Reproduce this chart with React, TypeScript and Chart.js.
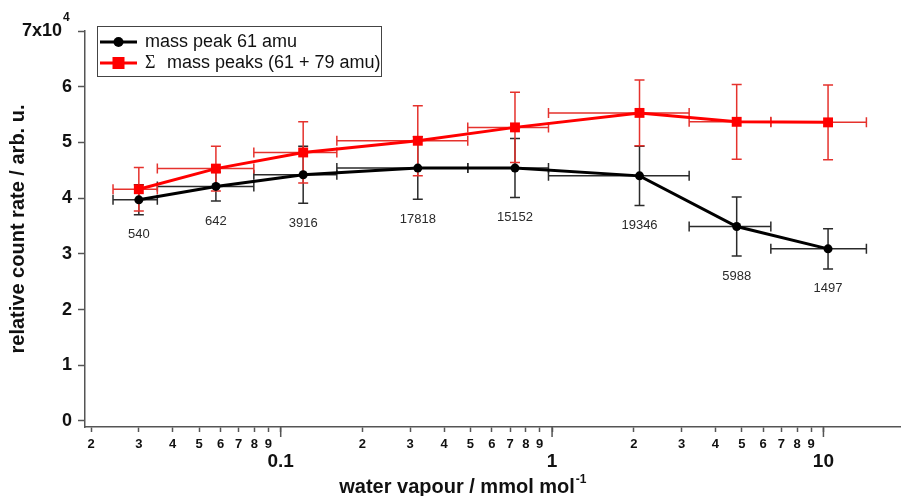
import React, { useEffect, useRef } from "react";
import { Chart, registerables } from "chart.js";

Chart.register(...registerables);

// ---- data ----
const waterVapour = [0.030, 0.0577, 0.121, 0.32, 0.73, 2.1, 4.79, 10.4];
const binEdges = [0.0241, 0.0351, 0.0796, 0.161, 0.489, 0.97, 3.2, 6.4, 14.4];
const peak61 = [39700, 42100, 44200, 45400, 45400, 44000, 34900, 30900];
const peak61Err = [2700, 2600, 5100, 5600, 5300, 5300, 5300, 3600];
const peakSum = [41600, 45300, 48200, 50300, 52700, 55300, 53700, 53600];
const peakSumErr = [3900, 4000, 5500, 6300, 6300, 5900, 6700, 6700];
const sampleCounts = ["540", "642", "3916", "17818", "15152", "19346", "5988", "1497"];
const xTickValues = [
  0.02, 0.03, 0.04, 0.05, 0.06, 0.07, 0.08, 0.09, 0.1,
  0.2, 0.3, 0.4, 0.5, 0.6, 0.7, 0.8, 0.9, 1,
  2, 3, 4, 5, 6, 7, 8, 9, 10,
];
const xMajorValues = [0.1, 1, 10];
const yTickValues = [0, 10000, 20000, 30000, 40000, 50000, 60000, 70000];
const seriesLabels = ["mass peak 61 amu", "mass peaks (61 + 79 amu)"];

const SANS = "'Liberation Sans', Arial, sans-serif";
const NARROW = "'Liberation Sans Narrow', 'Arial Narrow', 'Liberation Sans', Arial, sans-serif";
const SERIF = "'Liberation Serif', 'Times New Roman', serif";

const isMajor = (v: number) => xMajorValues.some((m) => Math.abs(m - v) < 1e-9);

const decorPlugin = {
  id: "decor",
  beforeDatasetsDraw(chart: any) {
    const { ctx } = chart;
    const x = chart.scales.x;
    const y = chart.scales.y;
    const sets = [
      { vals: peak61, err: peak61Err, color: "#2b2b2b" },
      { vals: peakSum, err: peakSumErr, color: "#e5322d" },
    ];
    ctx.save();
    ctx.lineWidth = 1.5;
    for (const s of sets) {
      ctx.strokeStyle = s.color;
      s.vals.forEach((v, i) => {
        const px = x.getPixelForValue(waterVapour[i]);
        const py = y.getPixelForValue(v);
        const top = y.getPixelForValue(v + s.err[i]);
        const bot = y.getPixelForValue(v - s.err[i]);
        const l = x.getPixelForValue(binEdges[i]);
        const r = x.getPixelForValue(binEdges[i + 1]);
        const c = 5;
        ctx.beginPath();
        ctx.moveTo(px, top);
        ctx.lineTo(px, bot);
        ctx.moveTo(px - c, top);
        ctx.lineTo(px + c, top);
        ctx.moveTo(px - c, bot);
        ctx.lineTo(px + c, bot);
        ctx.moveTo(l, py);
        ctx.lineTo(r, py);
        ctx.moveTo(l, py - c);
        ctx.lineTo(l, py + c);
        ctx.moveTo(r, py - c);
        ctx.lineTo(r, py + c);
        ctx.stroke();
      });
    }
    ctx.restore();
  },
  afterDraw(chart: any) {
    const { ctx, chartArea } = chart;
    const x = chart.scales.x;
    const y = chart.scales.y;
    ctx.save();

    // longer major ticks on x axis
    ctx.strokeStyle = "#555";
    ctx.lineWidth = 1.5;
    for (const v of xMajorValues) {
      const px = x.getPixelForValue(v);
      ctx.beginPath();
      ctx.moveTo(px, chartArea.bottom);
      ctx.lineTo(px, chartArea.bottom + 10);
      ctx.stroke();
    }

    // sample counts below black points
    ctx.fillStyle = "#2a2a2a";
    ctx.font = `13px ${SANS}`;
    ctx.textAlign = "center";
    ctx.textBaseline = "middle";
    peak61.forEach((v, i) => {
      const px = x.getPixelForValue(waterVapour[i]);
      const py = y.getPixelForValue(v - peak61Err[i]) + 20;
      ctx.fillText(sampleCounts[i], px, py);
    });

    // superscript for 7x10^4
    const y7 = y.getPixelForValue(70000);
    ctx.fillStyle = "#111";
    ctx.font = `bold 12px ${SANS}`;
    ctx.textAlign = "left";
    ctx.textBaseline = "middle";
    ctx.fillText("4", chartArea.left - 22, y7 - 13);

    // x-axis title with superscript
    const main = "water vapour / mmol mol";
    ctx.font = `bold 20px ${SANS}`;
    const wMain = ctx.measureText(main).width;
    ctx.font = `bold 12px ${SANS}`;
    const wSup = ctx.measureText("-1").width;
    const cx = chartArea.left + 0.463 * (chartArea.right - chartArea.left);
    const startX = cx - (wMain + wSup) / 2;
    ctx.textBaseline = "alphabetic";
    ctx.font = `bold 20px ${SANS}`;
    ctx.fillText(main, startX, chart.height - 3);
    ctx.font = `bold 12px ${SANS}`;
    ctx.fillText("-1", startX + wMain + 1, chart.height - 13);

    // legend
    const lx = chartArea.left + 12;
    const ly = chartArea.top - 5;
    ctx.strokeStyle = "#444";
    ctx.lineWidth = 1;
    ctx.strokeRect(lx + 0.5, ly + 0.5, 284, 50);
    const rows = [lx + 0, ly + 16, ly + 37];
    // row 1
    ctx.strokeStyle = "#000";
    ctx.lineWidth = 3;
    ctx.beginPath();
    ctx.moveTo(lx + 3, rows[1]);
    ctx.lineTo(lx + 40, rows[1]);
    ctx.stroke();
    ctx.fillStyle = "#000";
    ctx.beginPath();
    ctx.arc(lx + 21.5, rows[1], 5, 0, Math.PI * 2);
    ctx.fill();
    // row 2
    ctx.strokeStyle = "#f00";
    ctx.beginPath();
    ctx.moveTo(lx + 3, rows[2]);
    ctx.lineTo(lx + 40, rows[2]);
    ctx.stroke();
    ctx.fillStyle = "#f00";
    ctx.fillRect(lx + 21.5 - 6, rows[2] - 6, 12, 12);

    ctx.fillStyle = "#111";
    ctx.textAlign = "left";
    ctx.textBaseline = "middle";
    ctx.font = `18px ${SANS}`;
    ctx.fillText(seriesLabels[0], lx + 48, rows[1]);
    ctx.font = `18px ${SERIF}`;
    ctx.fillText("\u03A3", lx + 48, rows[2]);
    ctx.font = `18px ${SANS}`;
    ctx.fillText(seriesLabels[1], lx + 70, rows[2]);

    ctx.restore();
  },
};

export default function App() {
  const ref = useRef<HTMLCanvasElement | null>(null);

  useEffect(() => {
    if (!ref.current) return;
    const chart = new Chart(ref.current, {
      type: "line",
      data: {
        datasets: [
          {
            label: "\u03A3 " + seriesLabels[1],
            data: waterVapour.map((xv, i) => ({ x: xv, y: peakSum[i] })),
            borderColor: "#ff0000",
            backgroundColor: "#ff0000",
            borderWidth: 3,
            pointStyle: "rect",
            pointRadius: 7,
            pointBorderWidth: 0,
            order: 0,
          },
          {
            label: seriesLabels[0],
            data: waterVapour.map((xv, i) => ({ x: xv, y: peak61[i] })),
            borderColor: "#000000",
            backgroundColor: "#000000",
            borderWidth: 3,
            pointStyle: "circle",
            pointRadius: 4.5,
            pointBorderWidth: 0,
            order: 1,
          },
        ],
      },
      options: {
        animation: false,
        responsive: false,
        events: [],
        layout: { padding: { top: 31, right: 2, left: 0, bottom: 0 } },
        plugins: {
          legend: { display: false },
          tooltip: { enabled: false },
        },
        scales: {
          x: {
            type: "logarithmic",
            min: 0.019,
            max: 19.15,
            afterBuildTicks: (scale: any) => {
              scale.ticks = xTickValues.map((v) => ({ value: v }));
            },
            afterFit: (scale: any) => {
              scale.height = 69;
            },
            border: { display: true, color: "#555", width: 1.5 },
            grid: {
              drawOnChartArea: false,
              drawTicks: true,
              tickLength: 5,
              tickColor: "#555",
              tickWidth: 1.5,
            },
            ticks: {
              autoSkip: false,
              maxRotation: 0,
              minRotation: 0,
              padding: 6,
              color: "#111",
              font: (ctx: any) =>
                ctx.tick && isMajor(ctx.tick.value)
                  ? { family: NARROW, size: 19, weight: "bold", lineHeight: 0.84 }
                  : { family: NARROW, size: 13, weight: "bold", lineHeight: 1 },
              callback: (value: any) => {
                const v = Number(value);
                if (isMajor(v)) return ["", String(v)];
                const e = Math.floor(Math.log10(v) + 1e-9);
                return String(Math.round(v / Math.pow(10, e)));
              },
            },
            title: { display: false },
          },
          y: {
            type: "linear",
            min: -1077,
            max: 70000,
            afterBuildTicks: (scale: any) => {
              scale.ticks = yTickValues.map((v) => ({ value: v }));
            },
            afterFit: (scale: any) => {
              scale.width = 85;
            },
            border: { display: true, color: "#555", width: 1.5 },
            grid: {
              drawOnChartArea: false,
              drawTicks: true,
              tickLength: 7,
              tickColor: "#555",
              tickWidth: 1.5,
            },
            ticks: {
              padding: 6,
              color: "#111",
              font: { family: SANS, size: 18, weight: "bold" },
              callback: (value: any) => {
                const v = Number(value) / 10000;
                return v === 7 ? "7x10  " : String(v);
              },
            },
            title: {
              display: true,
              text: "relative count rate / arb. u.",
              color: "#111",
              font: { family: SANS, size: 20, weight: "bold" },
              padding: { top: 6, bottom: 0 },
            },
          },
        },
      },
      plugins: [decorPlugin],
    });
    return () => chart.destroy();
  }, []);

  return (
    <div style={{ position: "absolute", left: 0, top: 0, width: 907, height: 496, background: "#fff" }}>
      <canvas ref={ref} width={907} height={496} style={{ display: "block" }} />
    </div>
  );
}
